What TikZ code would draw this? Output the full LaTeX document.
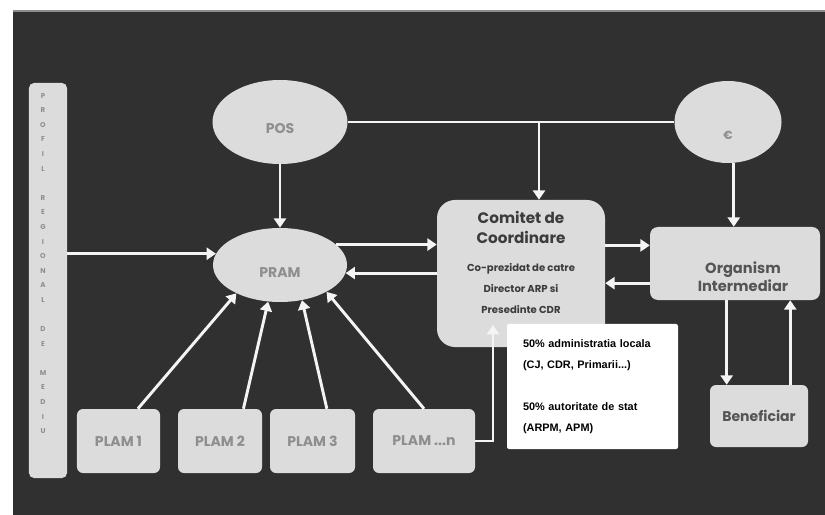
\documentclass[tikz,border=0pt]{standalone}
\usepackage{fontspec}
\setmainfont{Poppins}
\newfontfamily\arialfont{Liberation Sans}
\usetikzlibrary{arrows.meta,shapes.geometric}
\definecolor{bgdark}{HTML}{303030}
\definecolor{shapefill}{HTML}{DCDCDC}
\definecolor{graytext}{HTML}{8E8E8E}
\definecolor{darktext}{HTML}{3C3C3C}
\definecolor{midtext}{HTML}{555555}
\definecolor{linewhite}{HTML}{F4F4F4}
\begin{document}
\begin{tikzpicture}[x=0.03cm,y=-0.03cm,
  shp/.style={fill=shapefill, draw=none, inner sep=0},
  oval/.style={shp, ellipse},
  rbox/.style={shp, rectangle},
  plambox/.style={rbox, minimum height=1.92cm, rounded corners=0.18cm},
  lbl/.style={text=graytext, inner sep=0, font=\fontsize{12}{14}\selectfont\bfseries},
  conn/.style={draw=linewhite, line width=2.5pt},
  arr/.style={conn, -{Triangle[width=0.36cm,length=0.28cm]}},
]
\useasboundingbox (0,0) rectangle (825,515);
\fill[white] (0,0) rectangle (825,515);
\fill[bgdark] (13,10) rectangle (825,515);
\fill[black!45] (13,10) rectangle (825,12);

% left bar
\node[rbox, minimum width=1.14cm, minimum height=11.85cm, rounded corners=0.15cm] (bar) at (48,280.5) {};
\node[font=\fontsize{6}{12.45}\selectfont\bfseries, text=graytext, align=center, inner sep=0] (bartext) at (43,263.5)
  {P\\R\\O\\F\\I\\L\\~\\R\\E\\G\\I\\O\\N\\A\\L\\~\\D\\E\\~\\M\\E\\D\\I\\U};

% ellipses
\node[oval, minimum width=4.05cm, minimum height=2.52cm] (POS) at (280,122) {};
\node[lbl] (POSt) at ([yshift=-0.2cm]POS.center) {POS};
\node[oval, minimum width=4.02cm, minimum height=2.22cm] (PRAM) at (280,265) {};
\node[lbl] (PRAMt) at ([yshift=-0.24cm]PRAM.center) {PRAM};
\node[oval, minimum width=3.21cm, minimum height=2.46cm] (EU) at (728,122) {};
\node[lbl, font=\fontsize{10}{12}\selectfont\bfseries] (EUt) at ([yshift=-0.4cm]EU.center) {€};

% Comitet
\node[rbox, minimum width=5.04cm, minimum height=4.41cm, rounded corners=0.54cm] (Com) at (521,273.5) {};
\node[text=darktext, inner sep=0, align=center, font=\fontsize{13}{17}\selectfont\bfseries] (ComT1) at ([yshift=1.38cm]Com.center) {Comitet de\\Coordinare};
\node[text=darktext, inner sep=0, align=center, font=\fontsize{8.6}{17.9}\selectfont\bfseries] (ComT2) at ([yshift=-0.45cm]Com.center) {Co-prezidat de catre\\Director ARP si\\Presedinte CDR};

% Organism
\node[rbox, minimum width=5.1cm, minimum height=2.19cm, rounded corners=0.24cm] (Org) at (735,263.5) {};
\node[text=midtext, inner sep=0, align=center, font=\fontsize{12.5}{15.3}\selectfont\bfseries] (OrgT) at ([xshift=0.24cm,yshift=-0.4cm]Org.center) {Organism\\Intermediar};

% Beneficiar
\node[rbox, minimum width=2.94cm, minimum height=1.86cm, rounded corners=0.18cm, text=midtext, font=\fontsize{12}{14}\selectfont\bfseries] (Ben) at (759,416) {Beneficiar};

% PLAM boxes
\node[plambox, minimum width=2.49cm, lbl] (P1) at (118.5,441) {PLAM 1};
\node[plambox, minimum width=2.52cm, lbl] (P2) at (220,441) {PLAM 2};
\node[plambox, minimum width=2.55cm, lbl] (P3) at (312.5,441) {PLAM 3};
\node[plambox, minimum width=3.06cm, lbl] (Pn) at (424,441) {PLAM ...n};

% connectors
\draw[arr] (bar.east |- PRAM.170) -- (PRAM.170);
\draw[conn] (POS.east) -- (EU.west);
\coordinate (J) at (539,122);
\draw[arr] (J) -- (J |- Com.north);
\draw[arr] (POS.south) -- (PRAM.north);
\draw[arr] (EU.-82) -- (EU.-82 |- Org.north);
\draw[arr] (PRAM.20) -- (PRAM.20 -| Com.west);
\draw[arr] (PRAM.-7 -| Com.west) -- (PRAM.-7);
\draw[arr] (Org.168 -| Com.east) -- (Org.168);
\draw[arr] (Org.-167) -- (Org.-167 -| Com.east);
\draw[arr] (Ben.136 |- Org.south) -- (Ben.136);
\draw[arr] (Ben.45) -- (Ben.45 |- Org.south);
\draw[arr] (P1.59) -- (PRAM.213);
\draw[arr] (P2.54) -- (PRAM.252);
\draw[arr] (P3.66) -- (PRAM.-58);
\draw[arr] (Pn.north) -- (PRAM.-30);
\coordinate (K) at (493,325);
\draw[arr] (Pn.east) -| (K);

% white box
\node[fill=white, rounded corners=0.06cm, minimum width=5.13cm, minimum height=3.75cm, inner xsep=0.48cm, inner ysep=0, text width=4.17cm, align=left, font=\arialfont\bfseries\fontsize{9.3}{18}\selectfont] (WB) at (592.5,386.5)
  {50\% administratia locala\\(CJ, CDR, Primarii...)\\[18pt]50\% autoritate de stat\\(ARPM, APM)};
\end{tikzpicture}
\end{document}
